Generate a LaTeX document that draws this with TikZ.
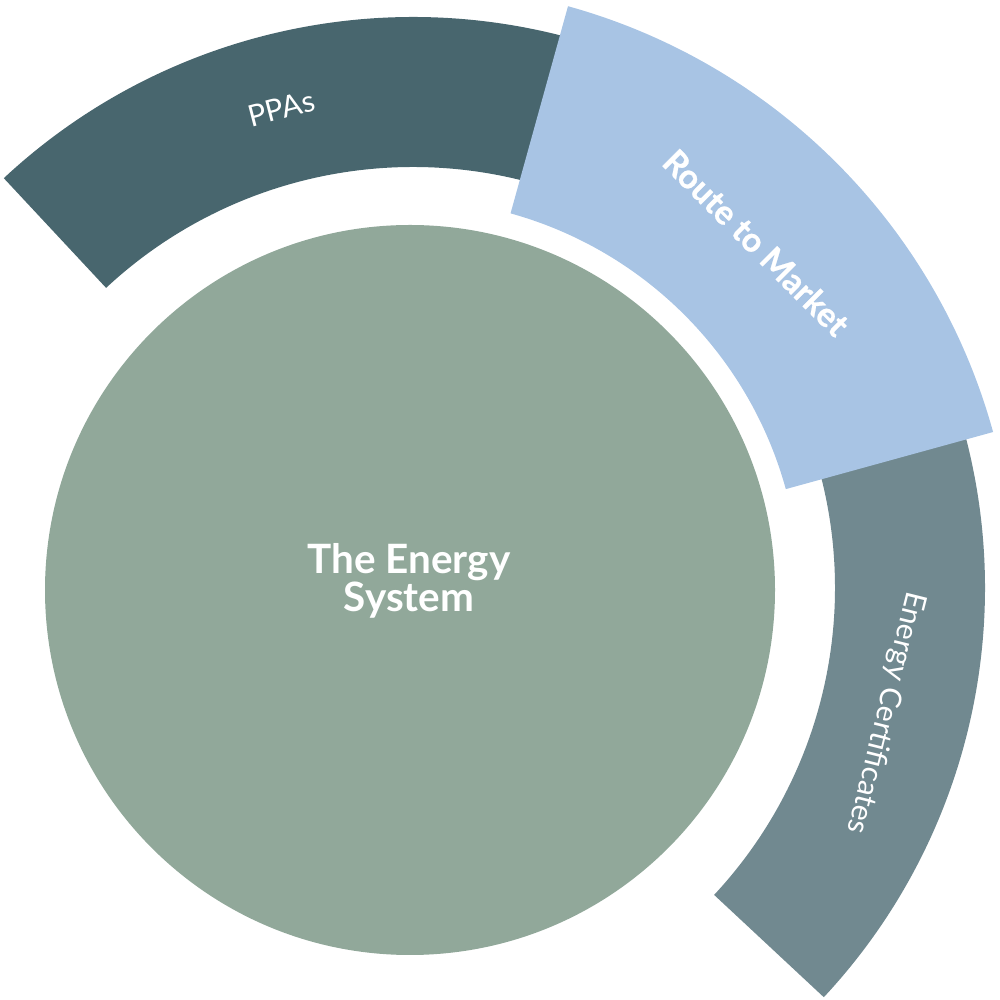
\documentclass[tikz,border=0pt]{standalone}
\usepackage{fontspec}
\setmainfont{Lato}
\newfontfamily\heavyfont{Lato}[BoldFeatures={FakeBold=0.7}]
\usepackage{xcolor}
\usetikzlibrary{math}

\definecolor{ppadark}{HTML}{48666E}
\definecolor{certgrey}{HTML}{718990}
\definecolor{routeblue}{HTML}{A8C4E4}
\definecolor{coregreen}{HTML}{91A89A}

\tikzset{
  seglabel/.style={text=white, inner sep=0pt, font=\fontsize{8.5}{10}\selectfont},
  keylabel/.style={text=white, inner sep=0pt, font=\heavyfont\bfseries\fontsize{9.6}{11}\selectfont},
  corelabel/.style={text=white, inner sep=0pt, align=center, font=\bfseries\fontsize{11.5}{10.6}\selectfont}
}

\begin{document}
\begin{tikzpicture}[x=0.01cm, y=0.01cm]
\tikzmath{
\Ro=600; \Ri=450;
\Rk=610; \Rj=395;
}
\useasboundingbox (0,0) rectangle (1000,1000);

% outer ring
\fill[color=ppadark, shift={(413,383)}] (75:\Ro) arc[start angle=75, end angle=133, radius=\Ro]
  -- (133:\Ri) arc[start angle=133, end angle=75, radius=\Ri] -- cycle;
\fill[color=certgrey, shift={(385,412)}] (-43:\Ro) arc[start angle=-43, end angle=15, radius=\Ro]
  -- (15:\Ri) arc[start angle=15, end angle=-43, radius=\Ri] -- cycle;
\fill[color=routeblue, shift={(405,406)}] (15.4:\Rk) arc[start angle=15.4, end angle=74.5, radius=\Rk]
  -- (74.5:\Rj) arc[start angle=74.5, end angle=15.4, radius=\Rj] -- cycle;

\path[shift={(413,383)}] (104.5:525) node[seglabel, rotate=14.5] (ppas) {PPAs};
\path[shift={(385,412)}] (-14:516) node[seglabel, rotate=-104] (certs) {Energy Certificates};
\path[shift={(405,406)}] (45:497) node[keylabel, rotate=-45] (route) {Route to Market};

% centre
\fill[color=coregreen] (410,410) circle[radius=365];
\node[corelabel] (core) at (409,419) {The Energy\\System};
\end{tikzpicture}
\end{document}
